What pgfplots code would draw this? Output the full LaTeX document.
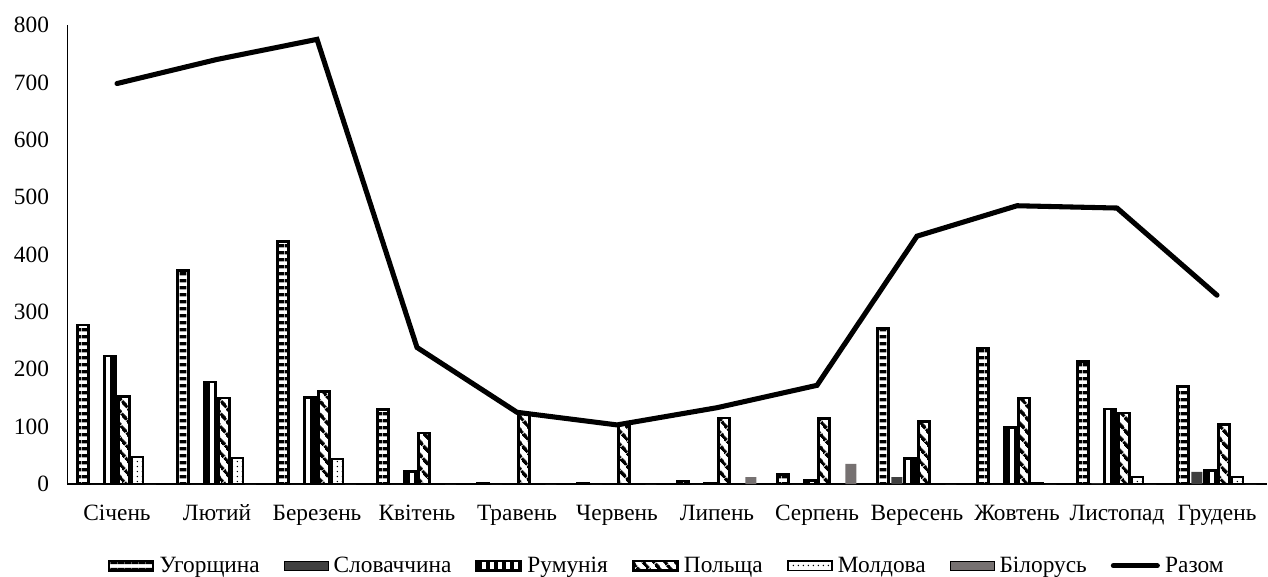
\documentclass[border=0pt]{standalone}
\usepackage{fontspec}
\setmainfont{Liberation Serif}
\usepackage{pgfplots}
\pgfplotsset{compat=1.18}
\usepackage{pgfplotstable}
\usetikzlibrary{patterns.meta}

\definecolor{slovak}{HTML}{404040}
\definecolor{belarus}{HTML}{767171}

% month, Hungary, Slovakia, Romania, Poland, Moldova, Belarus, total
\pgfplotstableread{
x hu sk ro pl md by total
0 277 0 223 152 47 0 698
1 372 0 178 150 46 0 740
2 423 0 151 161 44 0 775
3 130 0 22 89 0 0 238
4 1 0 0 124 0 0 125
5 1 0 0 103 0 0 103
6 5 0 1 115 0 12 133
7 17 0 6 114 0 35 172
8 271 12 45 109 0 0 432
9 237 0 98 150 2 0 485
10 213 1 131 124 12 0 481
11 170 21 24 104 12 0 329
}\datatable

\pgfplotsset{
  barleg/.style={legend image code/.code={\draw[##1] (0pt,-3.6pt) rectangle (33pt,3.6pt);}},
  lineleg/.style={legend image code/.code={\draw[##1] (0pt,0pt) -- (33pt,0pt);}},
  mybar/.style={ybar, bar width=8.25pt, bar shift=#1},
}

\begin{document}
\begin{tikzpicture}
\begin{axis}[
  name=ax,
  scale only axis,
  width=900pt, height=344.25pt,
  xmin=-0.5, xmax=11.5,
  ymin=0, ymax=800,
  ytick={0,100,...,800},
  xtick={0,...,11},
  xticklabels={Січень,Лютий,Березень,Квітень,Травень,Червень,Липень,Серпень,Вересень,Жовтень,Листопад,Грудень},
  axis x line*=bottom,
  axis y line*=left,
  x axis line style={line width=1.1pt},
  y axis line style={line width=0.6pt},
  major tick length=0pt,
  tick label style={font=\fontsize{17.5}{20}\selectfont},
  /pgf/number format/assume math mode=true,
  yticklabel style={xshift=-10pt},
  xticklabel style={yshift=-12pt, text height=12pt, text depth=4pt},
  legend columns=-1,
  legend style={at={(0.5,-0.178)}, anchor=center, draw=none,
    font=\fontsize{17.5}{20}\selectfont,
    /tikz/every odd column/.append style={column sep=2pt},
    /tikz/every even column/.append style={column sep=16pt},
    inner sep=0pt},
  legend cell align=left,
  clip=false,
]
\addplot[mybar=-25.31pt, draw=black, line width=2pt,
  pattern={Lines[angle=0, distance=5.4pt, line width=2.6pt]}, barleg]
  table[x=x,y=hu]{\datatable};
\addlegendentry{Угорщина}
\addplot[mybar=-15.19pt, draw=none, fill=slovak, barleg]
  table[x=x,y=sk]{\datatable};
\addlegendentry{Словаччина}
\addplot[mybar=-5.06pt, draw=black, line width=2pt,
  pattern={Lines[angle=90, distance=6pt, line width=2.6pt]}, barleg]
  table[x=x,y=ro]{\datatable};
\addlegendentry{Румунія}
\addplot[mybar=5.06pt, draw=black, line width=2pt,
  pattern={Lines[angle=-50, distance=6.5pt, line width=2.6pt]}, barleg]
  table[x=x,y=pl]{\datatable};
\addlegendentry{Польща}
\addplot[mybar=15.19pt, draw=black, line width=1.4pt,
  pattern={Dots[distance=4pt, radius=0.65pt]}, barleg]
  table[x=x,y=md]{\datatable};
\addlegendentry{Молдова}
\addplot[mybar=25.31pt, draw=none, fill=belarus, barleg]
  table[x=x,y=by]{\datatable};
\addlegendentry{Білорусь}
\addplot[sharp plot, black, line width=3.8pt, line join=miter, line cap=round, mark=none, lineleg]
  table[x=x,y=total]{\datatable};
\addlegendentry{Разом}
\end{axis}
\pgfresetboundingbox
\useasboundingbox (ax.south west) ++(-50.25pt,-69pt) rectangle ++(951pt,432pt);
\end{tikzpicture}
\end{document}
